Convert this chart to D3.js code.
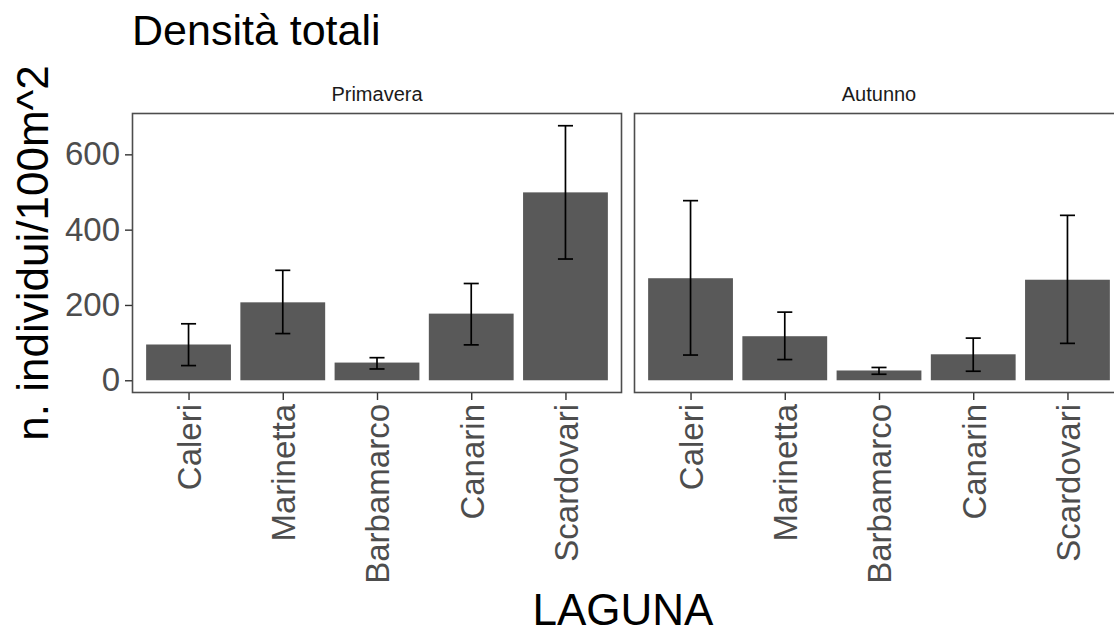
<!DOCTYPE html>
<html>
<head>
<meta charset="utf-8">
<script src="https://cdn.jsdelivr.net/npm/d3@7"></script>
<style>
  html, body { margin: 0; padding: 0; background: #fff; }
  svg { display: block; font-family: "Liberation Sans", Arial, sans-serif; }
</style>
</head>
<body>
<svg id="chart" width="1114" height="635"></svg>
<script>
const categories = ["Caleri", "Marinetta", "Barbamarco", "Canarin", "Scardovari"];
const seasons = ["Primavera", "Autunno"];
const primaveraMean = [95, 207, 47, 177, 499];
const primaveraLow  = [39, 124, 30, 94, 322];
const primaveraHigh = [150, 292, 60, 257, 676];
const autunnoMean = [271, 117, 26, 69, 267];
const autunnoLow  = [67, 55, 16, 24, 98];
const autunnoHigh = [477, 181, 34, 112, 438];
const yTicks = [0, 200, 400, 600];
const titleText = "Densità totali";
const yTitle = "n. individui/100m^2";
const xTitle = "LAGUNA";

const seriesBySeason = {
  Primavera: categories.map((c, i) => ({ cat: c, mean: primaveraMean[i], lo: primaveraLow[i], hi: primaveraHigh[i] })),
  Autunno: categories.map((c, i) => ({ cat: c, mean: autunnoMean[i], lo: autunnoLow[i], hi: autunnoHigh[i] }))
};

const svg = d3.select("#chart");
const panelTop = 113, panelBottom = 393;
const panelW = 490, gap = 12, panelLeft0 = 132;

// y scale with ggplot-like 5% expansion
const allVals = [0].concat(primaveraHigh, autunnoHigh, primaveraLow, autunnoLow, primaveraMean, autunnoMean);
const yMin = d3.min(allVals), yMax = d3.max(allVals);
const ex = (yMax - yMin) * 0.05;
const y = d3.scaleLinear().domain([yMin - ex, yMax + ex]).range([panelBottom, panelTop]);

// title
svg.append("text")
  .attr("x", panelLeft0).attr("y", 45)
  .attr("font-size", 43).attr("fill", "#000")
  .text(titleText);

// y axis title
svg.append("text")
  .attr("transform", `translate(48, ${(panelTop + panelBottom) / 2}) rotate(-90)`)
  .attr("text-anchor", "middle")
  .attr("font-size", 44).attr("fill", "#000")
  .text(yTitle);

seasons.forEach((season, si) => {
  const left = panelLeft0 + si * (panelW + gap);
  const x = d3.scalePoint().domain(categories).range([left, left + panelW]).padding(0.6);
  const step = x.step();
  const bw = step * 0.9;
  const capW = step * 0.16;
  const g = svg.append("g");
  const data = seriesBySeason[season];

  // bars
  g.selectAll("rect.bar").data(data).enter().append("rect")
    .attr("x", d => x(d.cat) - bw / 2)
    .attr("width", bw)
    .attr("y", d => y(d.mean))
    .attr("height", d => y(0) - y(d.mean))
    .attr("fill", "#595959");

  // error bars
  const eb = g.selectAll("g.err").data(data).enter().append("g")
    .attr("stroke", "#000").attr("stroke-width", 1.7).attr("fill", "none");
  eb.append("line").attr("x1", d => x(d.cat)).attr("x2", d => x(d.cat))
    .attr("y1", d => y(d.lo)).attr("y2", d => y(d.hi));
  eb.append("line").attr("x1", d => x(d.cat) - capW / 2).attr("x2", d => x(d.cat) + capW / 2)
    .attr("y1", d => y(d.hi)).attr("y2", d => y(d.hi));
  eb.append("line").attr("x1", d => x(d.cat) - capW / 2).attr("x2", d => x(d.cat) + capW / 2)
    .attr("y1", d => y(d.lo)).attr("y2", d => y(d.lo));

  // panel border
  g.append("rect")
    .attr("x", left + 0.5).attr("y", panelTop + 0.5)
    .attr("width", panelW - 1).attr("height", panelBottom - panelTop - 1)
    .attr("fill", "none").attr("stroke", "#4d4d4d").attr("stroke-width", 1.6);

  // strip label
  g.append("text")
    .attr("x", left + panelW / 2).attr("y", 101)
    .attr("text-anchor", "middle").attr("font-size", 20).attr("fill", "#1a1a1a")
    .text(season);

  // x axis
  const xAxis = d3.axisBottom(x).tickSize(7).tickSizeOuter(0).tickPadding(4);
  const ax = g.append("g").attr("transform", `translate(0, ${panelBottom})`).call(xAxis);
  ax.select(".domain").remove();
  ax.selectAll(".tick line").attr("stroke", "#333").attr("stroke-width", 1.4);
  ax.selectAll(".tick text")
    .attr("font-size", 33).attr("fill", "#4d4d4d").attr("font-family", "Liberation Sans, Arial, sans-serif")
    .attr("text-anchor", "end")
    .attr("transform", "rotate(-90)")
    .attr("x", -11).attr("y", 0).attr("dy", "0.36em");

  // y axis only on first panel
  if (si === 0) {
    const yAxis = d3.axisLeft(y).tickValues(yTicks).tickSize(7).tickPadding(5);
    const ay = g.append("g").attr("transform", `translate(${left}, 0)`).call(yAxis);
    ay.select(".domain").remove();
    ay.selectAll(".tick line").attr("stroke", "#333").attr("stroke-width", 1.4);
    ay.selectAll(".tick text")
      .attr("font-size", 33).attr("fill", "#4d4d4d").attr("font-family", "Liberation Sans, Arial, sans-serif");
  }
});

// x axis title
svg.append("text")
  .attr("x", panelLeft0 + (2 * panelW + gap) / 2 - 5).attr("y", 625)
  .attr("text-anchor", "middle").attr("font-size", 44).attr("fill", "#000")
  .text(xTitle);
</script>
</body>
</html>
